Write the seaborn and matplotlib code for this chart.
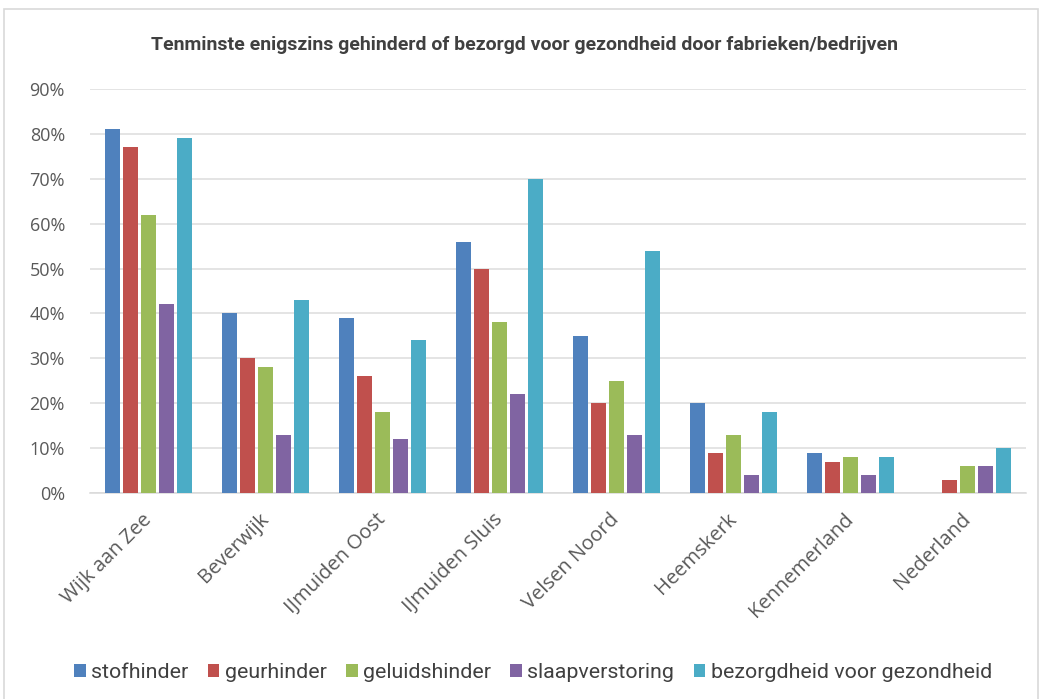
import matplotlib
matplotlib.use("Agg")
import matplotlib.pyplot as plt
import matplotlib.patches as mpatches
from matplotlib.ticker import PercentFormatter
import seaborn as sns
import pandas as pd

# data (percent)
regions = ["Wijk aan Zee", "Beverwijk", "IJmuiden Oost", "IJmuiden Sluis",
           "Velsen Noord", "Heemskerk", "Kennemerland", "Nederland"]
series = ["stofhinder", "geurhinder", "geluidshinder", "slaapverstoring",
          "bezorgdheid voor gezondheid"]
stofhinder = [81, 40, 39, 56, 35, 20, 9, 0]
geurhinder = [77, 30, 26, 50, 20, 9, 7, 3]
geluidshinder = [62, 28, 18, 38, 25, 13, 8, 6]
slaapverstoring = [42, 13, 12, 22, 13, 4, 4, 6]
bezorgdheid = [79, 43, 34, 70, 54, 18, 8, 10]
colors = ["#4F81BD", "#C0504D", "#9BBB59", "#8064A2", "#4BACC6"]

rows = []
for name, vals in zip(series, [stofhinder, geurhinder, geluidshinder,
                               slaapverstoring, bezorgdheid]):
    for reg, v in zip(regions, vals):
        rows.append([reg, name, v / 100])
df = pd.DataFrame(rows, columns=["regio", "type", "aandeel"])

sns.set_style("white")
plt.rcParams["font.family"] = ["Open Sans", "DejaVu Sans"]

fig = plt.figure(figsize=(10.44, 6.99), dpi=100)
ax = fig.add_axes([90 / 1044, 1 - 493 / 699, 936 / 1044, 404 / 699])

sns.barplot(data=df, x="regio", y="aandeel", hue="type",
            order=regions, hue_order=series, palette=colors,
            saturation=1, errorbar=None, width=0.77, gap=0.17,
            linewidth=0, ax=ax, zorder=3)

ax.set_ylim(0, 0.9)
ax.set_yticks([i / 10 for i in range(10)])
ax.yaxis.set_major_formatter(PercentFormatter(1.0, decimals=0))
ax.grid(axis="y", color="#DCDCDC", linewidth=1.1, zorder=0)
ax.set_axisbelow(True)
for s in ["top", "right", "left"]:
    ax.spines[s].set_visible(False)
ax.spines["bottom"].set_color("#D9D9D9")
ax.spines["bottom"].set_linewidth(1.1)
ax.set_xlabel("")
ax.set_ylabel("")
ax.tick_params(axis="both", length=0, labelcolor="#595959")
ax.tick_params(axis="y", pad=18, labelsize=13)
ax.tick_params(axis="x", pad=17, labelsize=14.5)
for lab in ax.get_xticklabels():
    lab.set_rotation(45)
    lab.set_ha("right")
    lab.set_va("center")
    lab.set_rotation_mode("anchor")

fig.text(0.502, 1 - 45 / 699,
         "Tenminste enigszins gehinderd of bezorgd voor gezondheid door fabrieken/bedrijven",
         ha="center", va="center", fontsize=14, fontweight="bold",
         color="#404040", family=["Roboto", "DejaVu Sans"])

handles, labels = ax.get_legend_handles_labels()
ax.legend_.remove()
leg = fig.legend(handles, labels, loc="center", bbox_to_anchor=(533 / 1044, 1 - 673 / 699),
                 ncol=5, frameon=False, handlelength=0.55, handleheight=0.55,
                 handletextpad=0.25, columnspacing=0.9,
                 prop={"family": ["Roboto", "DejaVu Sans"], "size": 15.4})
for t in leg.get_texts():
    t.set_color("#404040")

# chart area border
fig.patches.append(mpatches.Rectangle((4 / 1044, -0.05), 1034 / 1044, 1.05 - 9 / 699,
                                      transform=fig.transFigure, fill=False,
                                      edgecolor="#D9D9D9", linewidth=1.2))

fig.savefig("out.png", dpi=100)
